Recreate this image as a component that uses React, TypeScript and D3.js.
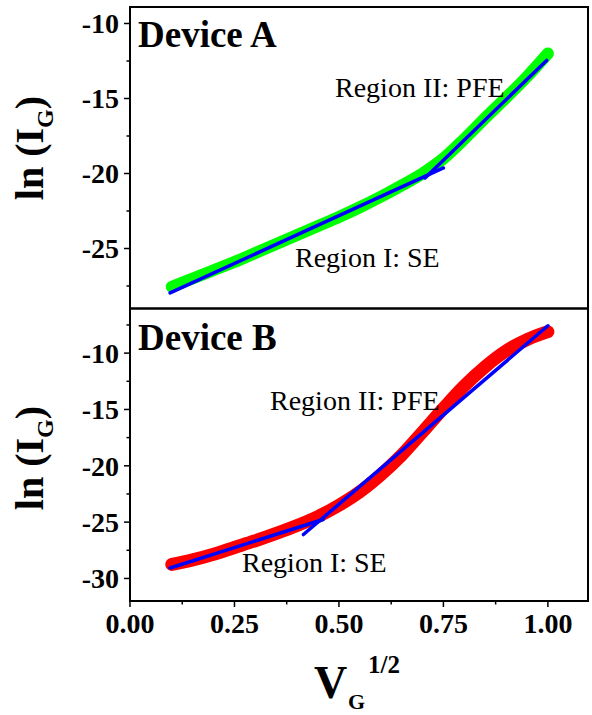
import * as d3 from "d3";

// V_G^1/2 sample positions shared by both curves
const vg = [0.1, 0.15, 0.2, 0.25, 0.3, 0.35, 0.4, 0.45, 0.5, 0.55, 0.6, 0.65, 0.7, 0.75, 0.8, 0.85, 0.9, 0.95, 1.0];

// Device A measured ln(I_G)
const deviceA = [-27.55, -27.0, -26.45, -25.9, -25.3, -24.7, -24.1, -23.5, -22.9, -22.25, -21.55, -20.8, -20.0, -19.0, -17.7, -16.3, -14.95, -13.55, -12.0];
// Device B measured ln(I_G)
const deviceB = [-28.75, -28.35, -27.85, -27.25, -26.65, -26.0, -25.3, -24.5, -23.5, -22.3, -20.8, -19.05, -17.0, -14.9, -12.9, -11.2, -9.8, -8.8, -8.1];

// linear fits [x0, y0, x1, y1]
const fitA1 = [0.096, -27.96, 0.75, -19.63];
const fitA2 = [0.706, -20.3, 0.997, -12.46];
const fitB1 = [0.096, -29.07, 0.462, -24.77];
const fitB2 = [0.415, -26.1, 1.0, -7.57];

const xTicks = [0, 0.25, 0.5, 0.75, 1.0];
const xMinor = [0.125, 0.375, 0.625, 0.875];
const yTicksA = [-10, -15, -20, -25];
const yMinorA = [-12.5, -17.5, -22.5, -27.5];
const yTicksB = [-10, -15, -20, -25, -30];
const yMinorB = [-7.5, -12.5, -17.5, -22.5, -27.5];

const font = "'Liberation Serif', 'Times New Roman', serif";

export default function App() {
  const W = 592, H = 715;
  const left = 130, right = 588, top = 7, mid = 308.5, bottom = 601;

  const x = d3.scaleLinear().domain([0, 1.096]).range([left, right]);
  const yA = d3.scaleLinear().domain([-29, -8.9]).range([mid, top]);
  const yB = d3.scaleLinear().domain([-32, -6.04]).range([bottom, mid]);

  const lineA = d3.line<number>().x((d, i) => x(vg[i])).y(d => yA(d)).curve(d3.curveMonotoneX);
  const lineB = d3.line<number>().x((d, i) => x(vg[i])).y(d => yB(d)).curve(d3.curveMonotoneX);

  const yAxis = (y: d3.ScaleLinear<number, number>, major: number[], minor: number[]) => (
    <g>
      {major.map(t => (
        <g key={"M" + t}>
          <line x1={left - 6} x2={left} y1={y(t)} y2={y(t)} stroke="#000" strokeWidth={1.5} />
          <text x={left - 11} y={y(t)} dy="0.35em" textAnchor="end" fontSize={28} fontWeight="bold">{t}</text>
        </g>
      ))}
      {minor.map(t => (
        <line key={"m" + t} x1={left - 3.5} x2={left} y1={y(t)} y2={y(t)} stroke="#000" strokeWidth={1.5} />
      ))}
    </g>
  );

  const fit = (f: number[], y: d3.ScaleLinear<number, number>) => (
    <line x1={x(f[0])} y1={y(f[1])} x2={x(f[2])} y2={y(f[3])} stroke="#0000ff" strokeWidth={3.5} strokeLinecap="round" />
  );

  return (
    <svg width={W} height={H} style={{ position: "absolute", left: 0, top: 0 }} fontFamily={font}>
      <rect width={W} height={H} fill="#fff" />

      {/* curves */}
      <path d={lineA(deviceA) || ""} fill="none" stroke="#00ff00" strokeWidth={12} strokeLinecap="round" />
      {fit(fitA1, yA)}
      {fit(fitA2, yA)}
      <path d={lineB(deviceB) || ""} fill="none" stroke="#ff0000" strokeWidth={13} strokeLinecap="round" />
      {fit(fitB1, yB)}
      {fit(fitB2, yB)}

      {/* frames */}
      <rect x={left} y={top} width={right - left} height={mid - top} fill="none" stroke="#000" strokeWidth={2} />
      <rect x={left} y={mid} width={right - left} height={bottom - mid} fill="none" stroke="#000" strokeWidth={2} />

      {yAxis(yA, yTicksA, yMinorA)}
      {yAxis(yB, yTicksB, yMinorB)}

      {/* x axis */}
      {xTicks.map(t => (
        <g key={"x" + t}>
          <line x1={x(t)} x2={x(t)} y1={bottom} y2={bottom + 6} stroke="#000" strokeWidth={1.5} />
          <text x={x(t)} y={633} textAnchor="middle" fontSize={28} fontWeight="bold">{t.toFixed(2)}</text>
        </g>
      ))}
      {xMinor.map(t => (
        <line key={"xm" + t} x1={x(t)} x2={x(t)} y1={bottom} y2={bottom + 3.5} stroke="#000" strokeWidth={1.5} />
      ))}

      {/* panel labels */}
      <text x={138} y={47} fontSize={37} fontWeight="bold">Device A</text>
      <text x={138} y={350} fontSize={37} fontWeight="bold">Device B</text>
      <text x={335} y={97} fontSize={28}>Region II: PFE</text>
      <text x={295} y={267} fontSize={28}>Region I: SE</text>
      <text x={270} y={410} fontSize={28}>Region II: PFE</text>
      <text x={242} y={572} fontSize={28}>Region I: SE</text>

      {/* y labels */}
      {[148, 458].map(cy => (
        <text key={cy} transform={`translate(43,${cy}) rotate(-90)`} textAnchor="middle" fontSize={40} fontWeight="bold">
          ln (I<tspan fontSize={24} dy={10}>G</tspan><tspan dy={-10}>)</tspan>
        </text>
      ))}

      {/* x label */}
      <text x={314} y={698} fontSize={46} fontWeight="bold">V</text>
      <text x={348} y={709} fontSize={22} fontWeight="bold">G</text>
      <text x={368} y={673} fontSize={25} fontWeight="bold">1/2</text>
    </svg>
  );
}
